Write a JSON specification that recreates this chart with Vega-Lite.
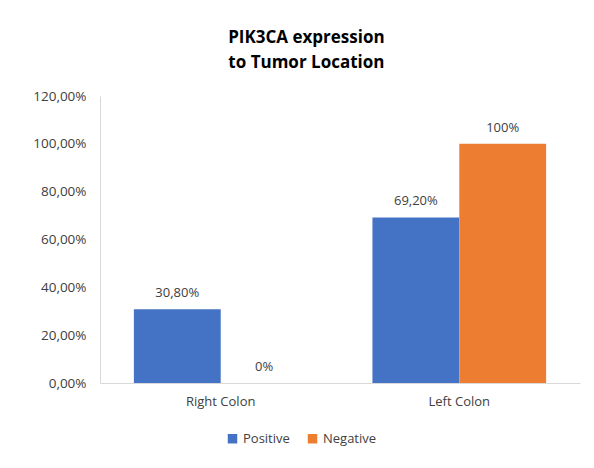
{
  "$schema": "https://vega.github.io/schema/vega-lite/v6.json",
  "width": 480,
  "height": 287,
  "autosize": {"type": "none"},
  "padding": {"left": 100, "top": 96, "right": 14, "bottom": 85},
  "background": "white",
  "config": {
    "font": "Open Sans",
    "view": {"stroke": null}
  },
  "title": {
    "text": ["PIK3CA expression", "to Tumor Location"],
    "fontSize": 17,
    "fontWeight": "bold",
    "font": "Open Sans",
    "color": "#000000",
    "lineHeight": 25,
    "frame": "bounds",
    "anchor": "middle",
    "offset": 17
  },
  "data": {
    "values": [
      {"location": "Right Colon", "group": "Positive", "value": 0.308, "label": "30,80%"},
      {"location": "Right Colon", "group": "Negative", "value": 0.0, "label": "0%"},
      {"location": "Left Colon", "group": "Positive", "value": 0.692, "label": "69,20%"},
      {"location": "Left Colon", "group": "Negative", "value": 1.0, "label": "100%"}
    ]
  },
  "encoding": {
    "x": {
      "field": "location",
      "type": "nominal",
      "sort": ["Right Colon", "Left Colon"],
      "scale": {"paddingInner": 0.272, "paddingOuter": 0.142},
      "axis": {
        "title": null,
        "labelAngle": 0,
        "labelFontSize": 13,
        "labelColor": "#404040",
        "labelPadding": 12,
        "ticks": false,
        "domainColor": "#d9d9d9",
        "domainWidth": 1
      }
    },
    "xOffset": {"field": "group", "type": "nominal", "sort": ["Positive", "Negative"], "scale": {"paddingInner": 0, "paddingOuter": 0}},
    "y": {
      "field": "value",
      "type": "quantitative",
      "scale": {"domain": [0, 1.2], "nice": false},
      "axis": {
        "title": null,
        "values": [0, 0.2, 0.4, 0.6, 0.8, 1.0, 1.2],
        "labelExpr": "replace(format(datum.value, '.2%'), '.', ',')",
        "grid": false,
        "ticks": false,
        "labelFontSize": 13.5,
        "labelColor": "#404040",
        "labelPadding": 14,
        "domainColor": "#d9d9d9",
        "domainWidth": 1
      }
    }
  },
  "layer": [
    {
      "mark": {"type": "bar"},
      "encoding": {
        "color": {
          "field": "group",
          "type": "nominal",
          "sort": ["Positive", "Negative"],
          "scale": {"domain": ["Positive", "Negative"], "range": ["#4472C4", "#ED7D31"]},
          "legend": {
            "title": null,
            "orient": "none",
            "legendX": 126,
            "legendY": 336,
            "direction": "horizontal",
            "symbolType": "square",
            "symbolSize": 90,
            "symbolStrokeWidth": 0,
            "labelFontSize": 13,
            "labelColor": "#404040",
            "columnPadding": 16
          }
        }
      }
    },
    {
      "mark": {"type": "text", "baseline": "bottom", "dy": -9, "fontSize": 13, "color": "#404040"},
      "encoding": {
        "text": {"field": "label"}
      }
    }
  ]
}
